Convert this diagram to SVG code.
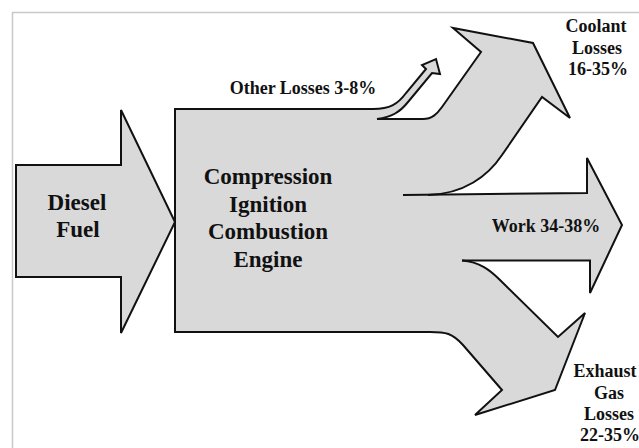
<svg xmlns="http://www.w3.org/2000/svg" width="639" height="448" viewBox="0 0 639 448">
  <style>
    .frame { fill: none; stroke: #c8c8c8; stroke-width: 1.5; }
    .fill { fill: #d9d9d9; stroke: none; }
    .edge { fill: none; stroke: #111; stroke-width: 2; stroke-linejoin: miter; stroke-linecap: butt; }
    .shape { fill: #d9d9d9; stroke: #111; stroke-width: 2; stroke-linejoin: miter; }
    .big { font-family: "Liberation Serif", "Times New Roman", serif; font-weight: bold; font-size: 23px; fill: #111; text-anchor: middle; }
    .lbl { font-family: "Liberation Serif", "Times New Roman", serif; font-weight: bold; font-size: 18px; fill: #111; }
    .mid { text-anchor: middle; }
  </style>

  <rect width="639" height="448" fill="#ffffff"/>
  <!-- outer frame -->
  <path class="frame" d="M12.5,448 V12.5 H639"/>

  <!-- fuel input arrow -->
  <g id="diesel-fuel">
    <path class="shape" d="M16,165 H121 V110 L175,222 L121,333 V277 H16 Z"/>
    <text class="big" x="77" y="210">Diesel</text>
    <text class="big" x="78" y="237">Fuel</text>
  </g>

  <!-- engine body with the shared fill of all outgoing flows -->
  <g id="engine">
    <path class="fill" d="M175,109 L377,109 L377,119 L423,119 C432,119 437,114 442,107 L481,52 L453,28 L533,43 L570,118 L542,97 L502,155 C488,176 464,194 428,195 L587,193 L587,158 L622,225 L590,293 L590,260.5 L462,260.5 C480,262 490,270 500,280 L558,337 L585,313 L555,390 L475,415 L502,390 L463,345 C452,333 446,332 430,332 L175,332 Z"/>
    <path class="edge" d="M377,109 H175 V332 H430"/>
    <text class="big" x="268" y="184">Compression</text>
    <text class="big" x="268" y="211.5">Ignition</text>
    <text class="big" x="268" y="239">Combustion</text>
    <text class="big" x="268" y="266.5">Engine</text>
  </g>

  <!-- outgoing energy flows -->
  <g id="flows">
    <g id="flow-other-losses">
      <path class="fill" d="M373,109 C390,109 398,104 406,93 L426,69 L422,65 L436,59 L440,74 L432,73 L408,102 C400,112 392,117 377,119 Z"/>
      <path class="edge" d="M373,109 C390,109 398,104 406,93 L426,69 L422,65 L436,59 L440,74 L432,73 L408,102 C400,112 392,117 377,119"/>
      <text class="lbl mid" x="303" y="94">Other Losses 3-8%</text>
    </g>
    <g id="flow-coolant">
      <path class="edge" d="M377,119 L423,119 C432,119 437,114 442,107 L481,52 L453,28 L533,43 L570,118 L542,97 L502,155 C488,176 464,194 428,195"/>
      <text class="lbl mid" x="596" y="32">Coolant</text>
      <text class="lbl mid" x="597" y="53.5">Losses</text>
      <text class="lbl mid" x="598" y="75">16-35%</text>
    </g>
    <g id="flow-work">
      <path class="edge" d="M403,195 L587,193 L587,158 L622,225 L590,293 L590,260.5 L462,260.5"/>
      <text class="lbl mid" x="546" y="232">Work 34-38%</text>
    </g>
    <g id="flow-exhaust">
      <path class="edge" d="M462,260.5 C480,262 490,270 500,280 L558,337 L585,313 L555,390 L475,415 L502,390 L463,345 C452,333 446,332 430,332"/>
      <text class="lbl mid" x="605" y="377">Exhaust</text>
      <text class="lbl mid" x="609" y="398.5">Gas</text>
      <text class="lbl mid" x="609" y="420">Losses</text>
      <text class="lbl mid" x="610" y="441">22-35%</text>
    </g>
  </g>
</svg>
